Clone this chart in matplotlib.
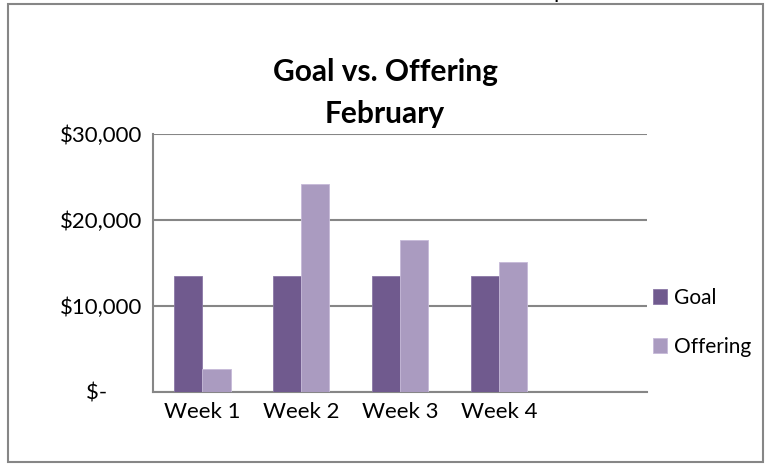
import matplotlib.pyplot as plt
import numpy as np
from matplotlib.patches import Rectangle

plt.rcParams['font.family'] = ['Lato', 'DejaVu Sans']

# values (5 category slots, last one empty)
weeks = ['Week 1', 'Week 2', 'Week 3', 'Week 4', '']
goal = [13500, 13500, 13500, 13500, 0]
offering = [2700, 24200, 17700, 15100, 0]
yticks = [0, 10000, 20000, 30000]
ytick_labels = ['$-      ', '$10,000', '$20,000', '$30,000']

goal_color = '#705a8e'
offer_color = '#aa9bc0'
gray = '#868686'

fig = plt.figure(figsize=(7.69, 4.67), dpi=100)

# outer chart border
fig.patches.append(Rectangle((8 / 769, 1 - 462 / 467), 755 / 769, 458 / 467,
                             transform=fig.transFigure, fill=False,
                             edgecolor=gray, linewidth=1.5))
# bit of text cut off above the chart
fig.text(560 / 769, 1.004, 'p', fontsize=16, ha='center', va='baseline')

ax = fig.add_axes([153 / 769, 1 - 392 / 467, 494 / 769, 258 / 467])

x = np.arange(len(weeks))
w = 0.285
ax.bar(x - w / 2, goal, w, color=goal_color, edgecolor='#8b78a6', linewidth=0.6,
       label='Goal', zorder=3)
ax.bar(x + w / 2, offering, w, color=offer_color, edgecolor='#c6bad8', linewidth=0.6,
       label='Offering', zorder=3)

ax.set_xlim(-0.5, len(weeks) - 0.5)
ax.set_ylim(0, 30000)
ax.set_yticks(yticks)
ax.set_yticklabels(ytick_labels, fontsize=16)
ax.set_xticks(x)
ax.set_xticklabels(weeks, fontsize=16)
ax.tick_params(length=0, pad=7)
ax.tick_params(axis='y', pad=8)
ax.yaxis.grid(True, color=gray, linewidth=1.5, zorder=0)

for s in ['top', 'right']:
    ax.spines[s].set_visible(False)
for s in ['left', 'bottom']:
    ax.spines[s].set_color(gray)
    ax.spines[s].set_linewidth(1.5)

fig.text(385 / 769, 1 - 93 / 467, 'Goal vs. Offering\nFebruary', ha='center',
         va='center', fontsize=21.5, fontweight='bold', linespacing=1.65)

ax.legend(loc='center left', bbox_to_anchor=(0.995, 0.27), frameon=False,
          fontsize=15, handlelength=0.7, handleheight=0.7, handletextpad=0.3,
          labelspacing=1.4, borderaxespad=0)

fig.savefig('out.png', dpi=100)
